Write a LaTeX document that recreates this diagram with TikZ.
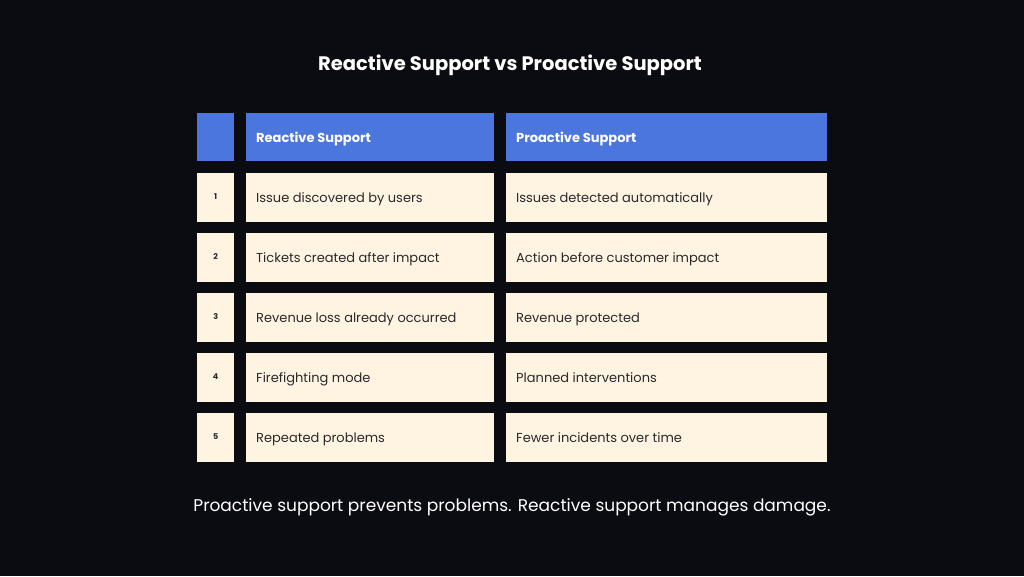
\documentclass[tikz,border=0pt]{standalone}
\usepackage{fontspec}
\setmainfont{Poppins}
\definecolor{bg}{HTML}{0B0B12}
\definecolor{hdr}{HTML}{4A76DE}
\definecolor{cell}{HTML}{FFF3E2}
\definecolor{txt}{HTML}{2A2A2A}
\begin{document}
\begin{tikzpicture}[x=1pt,y=-1pt,
  hbox/.style={fill=hdr,draw=none,anchor=north west,inner sep=0pt},
  cbox/.style={fill=cell,draw=none,anchor=north west,inner sep=0pt},
  ctext/.style={font=\fontsize{13}{16}\selectfont,text=txt,anchor=base west,inner sep=0pt},
  htext/.style={font=\fontsize{13}{16}\selectfont\bfseries,text=white,anchor=base west,inner sep=0pt},
  ntext/.style={font=\fontsize{8}{10}\selectfont\bfseries,text=txt}]
\fill[bg] (0,0) rectangle (1024,576);
\useasboundingbox (0,0) rectangle (1024,576);
\node[font=\fontsize{19.5}{24}\selectfont\bfseries,text=white] (title) at (510,65) {Reactive Support vs Proactive Support};
\node[hbox,minimum width=37,minimum height=48] (h0) at (197,113) {};
\node[hbox,minimum width=248,minimum height=48] (h1) at (246,113) {};
\node[hbox,minimum width=321,minimum height=48] (h2) at (506,113) {};
\node[htext] (h1t) at (256,142) {Reactive Support};
\node[htext] (h2t) at (516,142) {Proactive Support};
\foreach \i/\a/\b in {1/Issue discovered by users/Issues detected automatically,
  2/Tickets created after impact/Action before customer impact,
  3/Revenue loss already occurred/Revenue protected,
  4/Firefighting mode/Planned interventions,
  5/Repeated problems/Fewer incidents over time}{
  \pgfmathsetmacro{\y}{173+60*(\i-1)}
  \pgfmathsetmacro{\yb}{\y+29}
  \node[cbox,minimum width=37,minimum height=49] (n\i) at (197,\y) {};
  \node[cbox,minimum width=248,minimum height=49] (a\i) at (246,\y) {};
  \node[cbox,minimum width=321,minimum height=49] (b\i) at (506,\y) {};
  \node[ntext] (nt\i) at ([yshift=1pt]n\i.center) {\i};
  \node[ctext] (at\i) at (256,\yb) {\a};
  \node[ctext] (bt\i) at (516,\yb) {\b};
}
\node[font=\fontsize{17}{21}\selectfont,text=white] (foot) at (512,507) {Proactive support prevents problems. Reactive support manages damage.};
\end{tikzpicture}
\end{document}
